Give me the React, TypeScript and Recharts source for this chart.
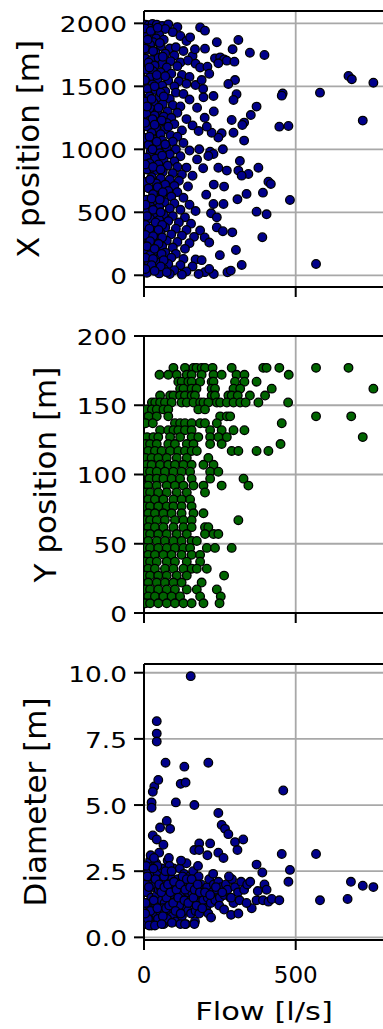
import React from 'react';
import {
  ScatterChart,
  Scatter,
  XAxis,
  YAxis,
  CartesianGrid,
  ReferenceLine,
  Label,
} from 'recharts';

// shared flow axis (l/s)
const FLOW_DOMAIN: [number, number] = [0, 791];
const FLOW_TICKS = [0, 500];

const XPOS_TICKS = [0, 500, 1000, 1500, 2000];
const YPOS_TICKS = [0, 50, 100, 150, 200];
const DIAM_TICKS = [0, 2.5, 5, 7.5, 10];

// [flow, x position]
const xPositionPoints: [number, number][] = [
  [5, 1990], [15, 1985], [28, 1995], [42, 1990], [60, 1980], [80, 1992], [18, 1960], [35, 1950], [70, 1955], [110, 1970],
  [10, 1930], [25, 1920], [50, 1910], [95, 1930], [120, 1900], [8, 1895], [40, 1880], [65, 1870], [140, 1860], [30, 1850],
  [5, 1840], [20, 1830], [55, 1820], [85, 1800], [105, 1810], [130, 1780], [12, 1790], [38, 1770], [70, 1760], [100, 1745],
  [160, 1740], [5, 1720], [25, 1710], [48, 1725], [88, 1700], [120, 1690], [145, 1705], [170, 1680], [15, 1690], [60, 1680],
  [35, 1665], [75, 1650], [110, 1660], [185, 1650], [10, 1630], [30, 1620], [55, 1610], [90, 1600], [125, 1590], [150, 1575],
  [20, 1570], [45, 1555], [80, 1545], [115, 1540], [8, 1530], [28, 1515], [60, 1505], [100, 1500], [140, 1520], [170, 1510],
  [195, 1480], [12, 1480], [38, 1470], [70, 1460], [105, 1450], [130, 1440], [18, 1420], [50, 1410], [85, 1400], [150, 1395],
  [5, 1380], [32, 1370], [62, 1360], [95, 1350], [120, 1340], [175, 1330], [22, 1320], [45, 1305], [78, 1300], [110, 1290],
  [8, 1280], [35, 1270], [65, 1260], [90, 1250], [140, 1240], [20, 1230], [50, 1215], [75, 1210], [100, 1200], [160, 1190],
  [12, 1180], [40, 1170], [70, 1160], [125, 1150], [180, 1145], [25, 1130], [55, 1120], [88, 1110], [110, 1100], [5, 1090],
  [30, 1080], [60, 1070], [95, 1060], [130, 1050], [15, 1035], [45, 1025], [75, 1015], [105, 1000], [150, 990], [22, 980],
  [52, 970], [85, 960], [120, 945], [8, 935], [38, 925], [65, 915], [100, 905], [175, 920], [18, 890], [48, 880],
  [78, 870], [110, 860], [140, 855], [10, 840], [35, 830], [62, 820], [95, 810], [125, 800], [160, 790], [25, 780],
  [55, 770], [85, 760], [115, 750], [5, 740], [40, 730], [70, 720], [100, 710], [145, 705], [15, 690], [45, 680],
  [80, 670], [110, 660], [30, 645], [60, 635], [90, 625], [130, 615], [8, 600], [38, 590], [68, 580], [100, 570],
  [150, 560], [20, 550], [50, 540], [85, 530], [120, 520], [170, 510], [10, 500], [35, 490], [65, 480], [95, 470],
  [135, 460], [20, 450], [50, 440], [80, 430], [115, 420], [155, 410], [5, 400], [40, 390], [70, 380], [105, 370],
  [140, 360], [185, 355], [25, 345], [55, 335], [90, 325], [125, 315], [165, 305], [12, 295], [45, 285], [75, 275],
  [110, 265], [150, 255], [30, 240], [60, 230], [95, 220], [135, 210], [8, 200], [40, 190], [70, 180], [105, 170],
  [20, 160], [55, 150], [90, 140], [130, 130], [170, 125], [15, 110], [45, 100], [80, 90], [120, 80], [160, 70],
  [30, 60], [65, 50], [100, 40], [140, 30], [10, 20], [50, 15], [85, 10], [125, 5], [200, 25], [230, 10],
  [3, 1960], [22, 1940], [45, 1965], [12, 1870], [52, 1845], [3, 1800], [30, 1780], [62, 1735], [18, 1650], [42, 1590],
  [70, 1580], [3, 1550], [35, 1500], [55, 1450], [25, 1400], [65, 1420], [10, 1340], [48, 1330], [28, 1240], [58, 1230],
  [4, 1210], [35, 1195], [80, 1180], [18, 1100], [42, 1060], [70, 1040], [28, 1000], [60, 950], [4, 880], [30, 860],
  [55, 840], [20, 760], [45, 700], [62, 660], [25, 610], [52, 600], [5, 560], [30, 520], [55, 500], [10, 470],
  [38, 420], [60, 400], [18, 370], [48, 360], [5, 320], [30, 310], [60, 300], [20, 270], [48, 250], [10, 230],
  [35, 210], [58, 170], [5, 140], [30, 130], [65, 120], [25, 80], [55, 70], [5, 50], [35, 35], [75, 25],
  [185, 1968], [201, 1942], [152, 1889], [168, 1794], [201, 1799], [209, 1656], [234, 1722], [251, 1730], [264, 1714], [245, 1683],
  [273, 1704], [298, 1696], [311, 1868], [292, 1794], [349, 1767], [397, 1749], [300, 1550], [278, 1519], [305, 1437], [295, 1392],
  [229, 1423], [196, 1413], [371, 1339], [457, 1444], [454, 1426], [580, 1450], [674, 1582], [685, 1556], [756, 1529], [721, 1228],
  [352, 1272], [330, 1212], [324, 1193], [289, 1233], [295, 1132], [256, 1127], [245, 1093], [223, 1132], [330, 1069], [446, 1180],
  [476, 1185], [207, 1180], [182, 1000], [218, 981], [229, 963], [212, 947], [245, 854], [273, 831], [311, 831], [316, 907],
  [344, 804], [377, 854], [371, 505], [404, 484], [392, 656], [338, 646], [308, 603], [481, 598], [390, 302], [291, 341],
  [303, 201], [322, 82], [275, 24], [286, 37], [567, 90], [264, 704], [229, 566], [262, 566], [322, 791], [410, 743],
  [418, 725], [221, 492], [240, 380], [260, 350], [200, 300], [215, 260], [250, 160], [190, 120], [215, 50], [180, 10],
  [240, 460], [205, 640], [230, 720], [195, 850], [260, 1000], [200, 1250], [230, 1300], [190, 1550], [215, 1600], [240, 1850],
];

// y position levels and the flows recorded at each level
const yPositionRows: [number, number[]][] = [
  [177, [97, 135, 163, 173, 190, 201, 226, 289, 393, 404, 446, 567, 674]],
  [172, [51, 80, 108, 141, 157, 190, 229, 256, 305, 331, 477]],
  [167, [113, 124, 146, 157, 185, 223, 229, 300, 331, 371]],
  [162, [119, 130, 157, 173, 223, 234, 295, 317, 421, 756]],
  [157, [53, 86, 97, 119, 135, 157, 168, 223, 234, 278, 289, 309, 349, 399]],
  [152, [26, 37, 53, 69, 91, 124, 141, 163, 185, 196, 212, 240, 251, 273, 295, 317, 335, 377, 475]],
  [147, [8, 26, 42, 64, 80, 179, 201]],
  [142, [15, 42, 80, 251, 273, 284, 567, 683]],
  [137, [5, 29, 102, 119, 135, 157, 185, 201, 240, 454]],
  [132, [53, 80, 97, 113, 135, 157, 218, 256, 295, 331]],
  [127, [10, 31, 47, 86, 119, 157, 179, 218, 245, 273, 721]],
  [122, [5, 20, 42, 80, 102, 141, 163, 218, 256, 450]],
  [117, [14, 36, 58, 86, 113, 135, 157, 174, 289, 311, 371, 410]],
  [112, [5, 25, 47, 75, 108, 141, 212]],
  [107, [8, 25, 53, 80, 102, 130, 157, 196, 229]],
  [102, [5, 20, 42, 69, 97, 124, 152, 218, 245]],
  [97, [18, 42, 64, 91, 119, 157, 218, 328]],
  [92, [5, 14, 42, 75, 102, 130, 163, 196, 256, 344]],
  [87, [8, 20, 47, 75, 108, 141, 201]],
  [82, [14, 36, 64, 97, 124, 152]],
  [77, [5, 20, 47, 75, 97, 124, 157]],
  [72, [14, 36, 64, 91, 124, 163, 196]],
  [67, [5, 20, 42, 69, 102, 130, 157, 311]],
  [62, [14, 36, 64, 97, 130, 157, 201, 212]],
  [57, [5, 20, 47, 75, 108, 141, 201, 229, 245]],
  [52, [14, 42, 69, 97, 124, 157, 174]],
  [47, [5, 20, 47, 75, 102, 130, 152, 207, 234, 289]],
  [42, [14, 36, 64, 91, 124, 157, 185]],
  [37, [5, 20, 42, 75, 102, 141, 185]],
  [32, [14, 36, 69, 97, 130, 157, 174, 207]],
  [27, [5, 20, 47, 75, 108, 141, 264]],
  [22, [14, 42, 69, 97, 124, 190]],
  [17, [5, 20, 47, 75, 102, 141, 174, 240]],
  [12, [14, 36, 64, 91, 119, 185, 253]],
  [7, [5, 20, 47, 75, 102, 130, 157, 196, 249]],
];

// [flow, diameter]
const diameterPoints: [number, number][] = [
  [8, 0.5], [12, 0.9], [15, 1.3], [10, 1.7], [18, 2.1], [14, 2.5], [20, 2.9], [22, 3.1], [25, 0.45], [28, 0.8],
  [26, 1.1], [24, 1.5], [30, 1.9], [27, 2.3], [29, 2.7], [6, 2.0], [9, 1.1], [19, 0.6], [35, 0.5], [38, 0.9],
  [40, 1.2], [42, 1.6], [36, 2.0], [45, 2.4], [40, 2.8], [50, 3.2], [55, 0.6], [52, 1.0], [58, 1.4], [48, 1.8],
  [56, 2.2], [60, 2.6], [33, 3.0], [46, 0.7], [54, 1.9], [44, 2.7], [65, 0.5], [70, 0.9], [68, 1.3], [75, 1.7],
  [72, 2.1], [80, 2.5], [78, 2.9], [85, 0.6], [90, 1.0], [88, 1.4], [95, 1.8], [92, 2.2], [98, 2.6], [82, 3.0],
  [62, 1.1], [66, 2.3], [74, 1.5], [86, 2.0], [94, 0.8], [100, 1.6], [76, 0.7], [84, 2.7], [105, 0.6], [110, 1.0],
  [108, 1.4], [115, 1.8], [112, 2.2], [118, 2.6], [125, 0.8], [130, 1.2], [128, 1.6], [135, 2.0], [132, 2.4], [140, 2.8],
  [145, 1.0], [148, 1.5], [142, 1.9], [150, 2.3], [138, 0.5], [122, 2.9], [103, 2.0], [116, 1.2], [126, 2.0], [144, 1.7],
  [155, 0.9], [160, 1.3], [158, 1.7], [165, 2.1], [162, 2.5], [170, 1.0], [175, 1.5], [172, 1.9], [180, 2.3], [185, 1.2],
  [190, 1.6], [188, 2.0], [195, 1.4], [198, 1.8], [168, 0.6], [182, 0.9], [178, 2.7], [205, 1.1], [210, 1.5], [208, 1.9],
  [215, 2.2], [220, 1.3], [225, 1.7], [230, 2.0], [235, 1.4], [240, 1.8], [245, 2.1], [250, 1.5], [255, 1.9], [212, 0.9],
  [228, 2.4], [248, 1.2], [265, 1.6], [270, 2.0], [275, 1.8], [285, 1.5], [290, 2.2], [300, 1.9], [310, 1.7], [320, 2.1],
  [330, 1.8], [340, 2.0], [350, 2.1], [280, 2.3], [295, 1.3], [315, 1.4],
  [5, 1.3], [11, 2.3], [16, 1.9], [21, 1.0], [13, 0.7], [32, 1.4], [38, 2.2], [44, 1.1], [50, 2.0], [57, 1.7],
  [62, 0.8], [67, 1.9], [71, 2.5], [73, 1.1], [79, 2.0], [83, 1.2], [87, 1.7], [91, 2.5], [96, 1.3], [99, 2.1],
  [104, 1.0], [107, 1.8], [113, 1.5], [119, 2.0], [121, 0.9], [127, 2.3], [133, 1.4], [136, 1.8], [141, 2.2], [146, 1.3],
  [152, 1.9], [157, 2.2], [163, 1.5], [167, 1.8], [173, 1.2], [177, 2.0], [184, 1.7], [192, 1.1], [201, 1.7], [218, 1.6],
  [237, 1.9], [258, 1.7], [17, 0.45], [36, 0.45], [58, 0.5], [92, 0.55], [120, 0.5], [4, 0.9], [7, 2.7], [31, 2.6],
  [154, 9.87], [42, 8.17], [42, 7.7], [42, 7.4], [71, 6.6], [133, 6.45], [212, 6.6], [121, 5.8], [137, 5.85], [459, 5.55],
  [34, 5.7], [47, 5.95], [29, 5.5], [25, 5.1], [25, 4.9], [105, 5.1], [166, 5.0], [245, 4.7], [256, 4.25], [267, 4.1],
  [278, 3.9], [75, 4.4], [86, 4.1], [29, 3.85], [42, 3.7], [53, 4.15], [64, 3.5], [182, 3.55], [218, 3.55], [300, 3.6],
  [327, 3.7], [308, 3.3], [166, 3.3], [182, 3.3], [209, 3.1], [245, 3.2], [262, 3.0], [454, 3.15], [567, 3.15], [371, 2.75],
  [390, 2.45], [481, 2.55], [476, 2.1], [397, 2.0], [404, 1.8], [375, 1.75], [371, 1.4], [392, 1.4], [410, 1.35], [421, 1.45],
  [446, 1.4], [580, 1.4], [671, 1.45], [682, 2.1], [721, 1.95], [756, 1.9], [355, 1.1], [338, 1.3], [287, 1.5], [264, 1.05],
  [287, 0.85], [311, 0.9], [221, 0.75], [166, 0.5], [135, 0.5],
];

const toData = (pts: [number, number][]) => pts.map(([flow, value]) => ({ flow, value }));
const yPositionPoints: [number, number][] = yPositionRows.flatMap(([y, flows]) =>
  flows.map((f) => [f, y] as [number, number]),
);

const FONT = '"DejaVu Sans", sans-serif';
const SPINE = { stroke: '#000', strokeWidth: 2 };

function makeYTick(fmt: (v: number) => string) {
  return (props: any) => {
    const { x, y, payload } = props;
    return (
      <text
        transform={`translate(${x},${y + 1}) scale(1.2,1)`}
        textAnchor="end"
        dy="0.36em"
        fontSize={22}
        fontFamily={FONT}
        fill="#000"
      >
        {fmt(payload.value)}
      </text>
    );
  };
}

const FlowTick = (props: any) => {
  const { x, y, payload } = props;
  return (
    <text
      transform={`translate(${x},${y})`}
      textAnchor="middle"
      dy={25}
      fontSize={23}
      fontFamily={FONT}
      fill="#000"
    >
      {payload.value}
    </text>
  );
};

const NoTick = () => <g />;

const dot = (fill: string) => (props: any) => (
  <circle cx={props.cx} cy={props.cy} r={4.3} fill={fill} stroke="#000" strokeWidth={1.3} />
);

interface PanelProps {
  points: [number, number][];
  yDomain: [number, number];
  yTicks: number[];
  fmtY: (v: number) => string;
  fill: string;
  yLabel: string;
  labelX: number;
  top: number;
  height: number;
  marginTop: number;
  xAxisHeight: number;
  bottom?: boolean;
}

function Panel({
  points, yDomain, yTicks, fmtY, fill, yLabel, labelX, top, height, marginTop, xAxisHeight, bottom,
}: PanelProps) {
  const midY = (marginTop + height - xAxisHeight) / 2;
  return (
    <div style={{ position: 'absolute', left: 0, top, width: 400, height }}>
      <ScatterChart
        width={400}
        height={height}
        margin={{ top: marginTop, right: 16, bottom: 0, left: 84 }}
        style={{ fontFamily: FONT }}
      >
        <CartesianGrid stroke="#a8a8a8" strokeWidth={1.8} />
        <XAxis
          type="number"
          dataKey="flow"
          domain={FLOW_DOMAIN}
          ticks={FLOW_TICKS}
          interval={0}
          allowDataOverflow
          height={xAxisHeight}
          axisLine={SPINE}
          tickLine={SPINE}
          tickSize={10}
          tickMargin={8}
          tick={bottom ? FlowTick : NoTick}
        >
          {bottom && (
            <Label
              content={() => (
                <text
                  transform="translate(264,370) scale(1.22,1)"
                  textAnchor="middle"
                  fontSize={25}
                  fontFamily={FONT}
                  fill="#000"
                >
                  Flow [l/s]
                </text>
              )}
            />
          )}
        </XAxis>
        <YAxis
          type="number"
          dataKey="value"
          domain={yDomain}
          ticks={yTicks}
          interval={0}
          allowDataOverflow
          width={60}
          axisLine={SPINE}
          tickLine={SPINE}
          tickSize={10}
          tickMargin={7}
          tick={makeYTick(fmtY)}
        >
          <Label
            content={() => (
              <text
                transform={`rotate(-90, ${labelX}, ${midY})`}
                x={labelX}
                y={midY}
                textAnchor="middle"
                fontSize={31}
                fontFamily={FONT}
                fill="#000"
              >
                {yLabel}
              </text>
            )}
          />
        </YAxis>
        <Scatter data={toData(points)} isAnimationActive={false} shape={dot(fill)} />
        <ReferenceLine y={yDomain[1]} stroke="#000" strokeWidth={2} />
      </ScatterChart>
    </div>
  );
}

export default function App() {
  return (
    <div
      style={{
        position: 'absolute',
        left: 0,
        top: 0,
        width: 383,
        height: 1029,
        overflow: 'hidden',
        background: '#fff',
      }}
    >
      <Panel
        points={xPositionPoints}
        yDomain={[-93, 2098]}
        yTicks={XPOS_TICKS}
        fmtY={(v) => String(v)}
        fill="#00008b"
        yLabel="X position [m]"
        labelX={39}
        top={0}
        height={300}
        marginTop={11}
        xAxisHeight={13}
      />
      <Panel
        points={yPositionPoints}
        yDomain={[0, 200]}
        yTicks={YPOS_TICKS}
        fmtY={(v) => String(v)}
        fill="#006400"
        yLabel="Y position [m]"
        labelX={56}
        top={320}
        height={310}
        marginTop={16}
        xAxisHeight={17}
      />
      <Panel
        points={diameterPoints}
        yDomain={[-0.1, 10.33]}
        yTicks={DIAM_TICKS}
        fmtY={(v) => v.toFixed(1)}
        fill="#00008b"
        yLabel="Diameter [m]"
        labelX={46}
        top={650}
        height={379}
        marginTop={14}
        xAxisHeight={89}
        bottom
      />
    </div>
  );
}
